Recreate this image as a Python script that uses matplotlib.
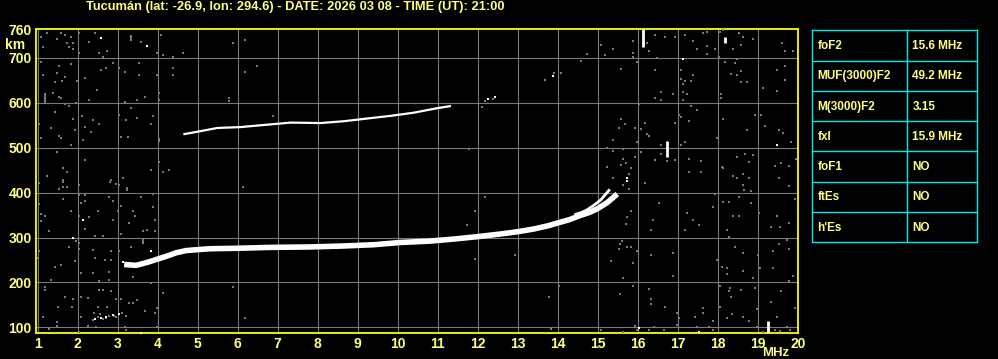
import matplotlib
matplotlib.use("Agg")
import matplotlib.pyplot as plt

# ionogram traces (MHz, km)
o_freq = [3.16, 3.46, 3.79, 3.96, 4.21, 4.46, 4.71, 5.29, 5.96, 6.79, 7.79, 8.6, 9.4, 10.07,
          10.8, 11.33, 12.0, 12.58, 13.0, 13.4, 13.75, 14.06, 14.3, 14.56, 14.8, 14.99, 15.24, 15.49]
o_height = [240, 238, 246, 251, 258, 266, 271, 275, 276, 278, 279, 281, 284, 289,
            292, 296, 302, 308, 313, 319, 326, 334, 340, 349, 356, 364, 378, 397]
x_freq = [14.45, 14.6, 14.74, 14.89, 15.08, 15.28]
x_height = [352, 356, 362, 371, 384, 405]
f2_freq = [4.64, 4.89, 5.49, 6.07, 6.57, 7.32, 8.07, 8.65, 9.23, 9.82, 10.4, 10.98, 11.33]
f2_height = [530, 534, 544, 546, 550, 556, 555, 559, 565, 571, 578, 588, 593]

# vertical streaks (MHz, bottom km, top km)
bar_f = [16.13, 16.73, 18.19, 19.25]
bar_lo = [725, 480, 733, 86]
bar_hi = [764, 515, 746, 113]
gbar_f = [1.17, 3.33, 3.64]
gbar_lo = [598, 738, 285]
gbar_hi = [622, 750, 297]

# white speckles
white_f = [2.58, 3.73, 2.13, 1.88, 3.83, 3.59, 2.44, 2.58, 2.71, 2.88, 3.04, 3.14,
           17.14, 13.88, 19.48, 15.73, 15.73, 16.04, 17.54, 12.26, 12.42]
white_h = [744, 727, 338, 298, 270, 88, 119, 121, 124, 128, 130, 246,
           698, 660, 506, 432, 425, 99, 89, 609, 612]

# grey speckles
noise_f = [1.09, 1.23, 1.58, 1.69, 1.83, 2.03, 2.44, 1.49, 1.74, 1.88, 2.28, 1.13, 1.79, 1.89,
           2.53, 2.74, 2.63, 2.89, 1.09, 1.83, 1.53, 2.59, 2.71, 3.03, 3.53, 3.19, 3.53, 1.48,
           1.13, 1.69, 2.19, 1.98, 1.43, 1.61, 2.49, 1.38, 1.53, 1.58, 2.28,
           1.96, 1.79, 1.67, 3.17, 3.48, 3.68, 4.03, 4.03, 1.43, 1.03, 1.88, 2.11, 2.39, 2.54,
           2.19, 1.33, 1.94, 2.33, 3.21, 3.48, 3.88, 3.83, 3.03, 3.33, 3.08, 3.25, 1.09, 1.53,
           1.58, 2.13, 4.03, 4.03, 1.83, 1.49, 2.18, 1.63, 1.73, 1.23, 1.63, 2.83, 3.13, 3.82,
           4.03, 4.13, 4.28, 3.58, 4.09, 3.98, 4.13, 4.38, 4.63, 4.38, 4.38, 3.98,
           5.88, 6.18, 6.48, 6.18, 5.78, 5.78, 6.88, 2.04, 2.96,
           1.04, 1.63, 1.54, 1.63, 1.73, 2.03, 2.81, 3.03, 3.23, 3.23, 2.04, 2.19, 2.78, 3.59,
           3.88, 1.03, 1.63, 2.09, 2.19, 2.88, 3.09, 3.88, 1.83, 2.5, 3.0, 3.39, 1.09, 1.19,
           2.04, 2.28, 3.44, 1.09, 2.88, 3.28, 3.93, 1.28, 2.19, 2.44, 2.63, 3.09, 3.63, 3.73,
           3.93, 1.96, 2.03, 1.78, 2.03, 1.03, 2.38, 2.83, 3.03, 3.33, 1.0, 1.92,
           2.42, 2.67, 2.83, 1.44, 1.59, 2.09, 2.38, 2.79, 1.34, 2.53, 2.78, 3.38, 3.83, 1.17,
           1.17, 4.13, 5.88, 6.13, 6.18, 2.54, 2.63, 2.83, 1.69, 1.88, 2.09, 2.25, 2.96, 3.09,
           3.29, 3.39, 3.48, 1.5, 1.86, 2.5, 2.73, 3.69, 3.94, 3.98, 1.13, 2.09, 1.48, 1.48,
           2.25, 2.46, 3.17, 3.21, 3.98, 1.29, 2.03, 2.38, 2.5, 2.63, 2.78, 2.95, 3.1, 3.21,
           2.4, 2.55, 2.7, 2.9,
           13.69, 14.08, 14.73, 14.58, 15.08, 15.19, 15.38, 15.58, 15.89, 15.88, 15.88, 15.98,
           16.23, 16.27, 16.43, 16.69, 16.94, 16.48, 16.43, 16.58, 16.43, 16.58, 16.88, 17.19,
           17.38, 17.48, 17.64, 17.73, 17.73, 17.73, 17.94, 18.02, 18.06, 18.13, 18.38, 18.54,
           18.58, 18.64, 18.88, 18.48, 18.43, 18.19, 19.6, 19.69, 19.88, 19.69, 19.48, 19.69,
           19.48, 19.13, 18.59, 18.48, 18.34, 18.59, 18.73, 17.09, 17.09, 17.19, 17.33, 17.38,
           17.13, 17.13, 17.23, 17.13, 18.09, 18.09, 16.02, 15.59, 15.69, 15.54, 15.94, 16.09,
           16.19, 16.23, 16.29, 15.38, 15.23, 15.38, 15.63, 15.98, 16.09, 16.58, 16.58, 16.43,
           16.73, 16.94, 16.94, 17.02, 17.09, 17.29, 17.34, 17.48, 17.09, 17.19, 17.29, 17.59,
           17.29, 17.59, 17.98, 18.13, 18.73, 18.94, 19.08, 19.18, 19.54, 19.63, 19.83, 18.48,
           18.69, 18.88, 18.79, 18.1, 18.13, 18.39, 18.63, 18.48, 18.79, 19.44, 19.58, 19.77,
           19.96, 19.52, 15.23, 15.39, 15.63, 15.71, 15.77, 15.83, 15.94, 15.58,
           15.63, 15.77, 16.19, 15.84, 15.74, 15.71, 15.6, 15.56, 15.54, 15.74, 15.83, 15.98,
           15.33, 15.88, 15.63, 15.88, 15.56, 16.27, 16.34, 16.34, 16.69, 16.54, 16.39, 16.34,
           16.34, 16.88, 16.88, 17.23, 17.38, 17.53, 17.19, 17.94, 17.88, 18.13, 18.29, 18.54,
           18.66, 18.63, 18.83, 18.83, 18.39, 18.54, 18.23, 18.29, 19.04, 19.48, 19.33, 19.56,
           19.79, 19.79, 19.94, 19.73, 19.54, 19.79, 19.37, 19.0, 18.63, 18.44, 17.98, 18.1,
           18.23, 18.23, 18.63, 18.88, 19.06, 19.39, 19.87, 19.77, 18.06, 18.31, 18.27, 18.58,
           18.94, 19.58, 18.33, 19.33, 18.98, 19.48, 19.93, 17.63, 17.63, 17.44, 17.88, 18.06,
           18.23, 18.35, 18.63, 18.79, 16.99, 17.02, 17.48, 17.77, 15.63, 15.92, 15.98, 16.27,
           16.41, 16.66, 16.98, 17.89, 18.99, 19.14, 19.43, 19.56, 19.73, 19.81, 15.08, 13.83,
           14.02, 13.79, 16.18,
           12.19, 11.94, 11.72, 11.94, 12.93, 11.77, 12.18, 12.39, 13.9, 12.1]
noise_h = [747, 755, 755, 751, 747, 755, 755, 742, 733, 733, 736, 724, 725, 720,
           710, 715, 701, 688, 692, 686, 682, 673, 677, 677, 688, 668, 663, 667,
           663, 658, 655, 649, 647, 649, 628, 623, 614, 610, 606,
           599, 594, 597, 601, 606, 614, 623, 606, 579, 552, 565, 571, 561, 552,
           547, 543, 539, 534, 562, 567, 571, 552, 574, 588, 524, 524, 521, 526,
           522, 517, 519, 515, 507, 490, 472, 454, 445, 437, 428, 428, 432, 450,
           469, 445, 450, 736, 751, 710, 706, 701, 710, 677, 663, 663,
           733, 741, 682, 669, 611, 605, 570, 710, 420,
           421, 423, 408, 412, 412, 416, 423, 418, 411, 405, 394, 394, 391, 390,
           397, 375, 385, 376, 382, 381, 371, 368, 358, 358, 359, 358, 353, 349,
           349, 345, 349, 336, 339, 332, 340, 314, 318, 304, 304, 308, 314, 317,
           314, 292, 287, 278, 275, 270, 273, 270, 269, 278, 255, 247,
           255, 251, 251, 234, 238, 220, 220, 223, 206, 203, 206, 212, 198, 189,
           183, 176, 189, 412, 120, 183, 184, 180, 167, 162, 167, 165, 162, 162,
           154, 154, 160, 146, 146, 145, 145, 137, 131, 143, 124, 124, 111, 102,
           102, 100, 100, 94, 100, 96, 89, 117, 122, 118, 126, 122, 131, 126,
           133, 129, 120, 125,
           651, 667, 708, 693, 729, 707, 721, 675, 738, 710, 701, 692,
           733, 715, 751, 747, 747, 699, 673, 625, 610, 606, 620, 751,
           738, 720, 755, 757, 727, 708, 720, 703, 757, 762, 720, 755,
           729, 747, 742, 698, 689, 692, 733, 715, 715, 683, 673, 651,
           626, 632, 671, 662, 664, 647, 647, 673, 654, 649, 649, 663,
           641, 625, 619, 606, 619, 610, 597, 565, 552, 543, 543, 542,
           556, 530, 526, 517, 499, 493, 497, 512, 491, 507, 485, 472,
           470, 556, 472, 574, 569, 559, 593, 584, 507, 512, 476, 470,
           445, 445, 522, 565, 539, 574, 574, 548, 539, 532, 513, 480,
           485, 484, 469, 458, 454, 437, 441, 432, 432, 460, 467, 460,
           476, 432, 458, 432, 475, 465, 441, 454, 480, 461,
           416, 408, 421, 359, 345, 330, 293, 286, 275, 278, 278, 269,
           247, 243, 210, 193, 174, 185, 163, 152, 146, 376, 339, 317,
           260, 265, 215, 354, 339, 327, 317, 397, 369, 379, 379, 391,
           405, 416, 403, 376, 349, 349, 317, 302, 354, 349, 323, 323,
           332, 414, 386, 295, 286, 275, 269, 260, 265, 278, 250, 234,
           232, 219, 225, 210, 232, 232, 215, 203, 193, 188, 180, 184,
           188, 180, 167, 156, 141, 124, 143, 143, 133, 124, 115, 145,
           121, 130, 124, 115, 131, 121, 100, 100, 89, 102, 94, 93,
           100, 93, 106, 93, 100, 89, 93, 91, 100, 94, 93, 96,
           191, 167, 421,
           390, 358, 327, 252, 260, 498, 605, 609, 666, 590]

x_ticks = list(range(1, 21))
y_ticks = [100, 200, 300, 400, 500, 600, 700]
y_labels = ["100", "200", "300", "400", "500", "600", "700"]

table_names = ["foF2", "MUF(3000)F2", "M(3000)F2", "fxI", "foF1", "ftEs", "h'Es"]
table_values = ["15.6 MHz", "49.2 MHz", "3.15", "15.9 MHz", "NO", "NO", "NO"]

title = "Tucumán (lat: -26.9, lon: 294.6) - DATE: 2026 03 08 - TIME (UT): 21:00"

YEL = "#ffff80"
FRAME = "#ffff00"
CYAN = "#00e8e8"
GRID = "#7a7a7a"
FONT = dict(family="Liberation Sans", weight="bold")

fig = plt.figure(figsize=(9.98, 3.59), dpi=100, facecolor="black")
ax = fig.add_axes([0.0358, 0.0716, 0.7635, 0.8468], facecolor="black")
ax.set_xlim(0.95, 20.0)
ax.set_ylim(86.7, 763.8)

ax.set_xticks(x_ticks)
ax.set_yticks(y_ticks)
ax.grid(True, color=GRID, lw=0.8)
ax.tick_params(length=0, colors=YEL, pad=3)
ax.set_xticklabels([str(t) for t in x_ticks], fontsize=10, **FONT)
ax.set_yticklabels(y_labels, fontsize=10, **FONT)
for lab in ax.get_xticklabels() + ax.get_yticklabels():
    lab.set_color(YEL)
for s in ax.spines.values():
    s.set_color(FRAME)
    s.set_linewidth(1.3)

ax.text(-0.006, 760, "760", transform=ax.get_yaxis_transform(), ha="right", va="center",
        color=YEL, fontsize=10, **FONT)
fig.text(5 / 998, 1 - 45 / 359, "km", ha="left", va="center", color=YEL, fontsize=10, **FONT)
ax.text(19.8, -0.064, "MHz", transform=ax.get_xaxis_transform(), ha="right", va="center",
        color=YEL, fontsize=9.5, **FONT)

ax.scatter(noise_f, noise_h, s=4.5, marker="s", c=GRID, linewidths=0, zorder=3)
ax.vlines(gbar_f, gbar_lo, gbar_hi, color=GRID, lw=1.5, zorder=3)
ax.plot(f2_freq, f2_height, color="white", lw=1.6, solid_capstyle="butt", zorder=4)
ax.plot(o_freq, o_height, color="white", lw=4.0, solid_capstyle="butt", zorder=4)
ax.plot(x_freq, x_height, color="white", lw=2.0, zorder=4)
ax.scatter(white_f, white_h, s=3, marker="s", c="white", linewidths=0, zorder=5)
ax.vlines(bar_f, bar_lo, bar_hi, color="white", lw=2.0, zorder=5)

fig.text(0.296, 0.981, title, ha="center", va="center", color=YEL, fontsize=9.3, **FONT)

# parameter table
tab = fig.add_axes([812.3 / 998, 1 - 242.3 / 359, 165 / 998, 212 / 359])
tab.set_xlim(0, 165)
tab.set_ylim(7, 0)
tab.axis("off")
for i in range(8):
    tab.axhline(i, color=CYAN, lw=1.0, clip_on=False)
for xv in [0, 95, 165]:
    tab.plot([xv, xv], [0, 7], color=CYAN, lw=1.0, clip_on=False)
for i, (n, v) in enumerate(zip(table_names, table_values)):
    tab.text(5, i + 0.52, n, ha="left", va="center", color=YEL, fontsize=8.5, **FONT)
    tab.text(100, i + 0.52, v, ha="left", va="center", color=YEL, fontsize=8.5, **FONT)

fig.savefig("out.png", dpi=100, facecolor="black")
